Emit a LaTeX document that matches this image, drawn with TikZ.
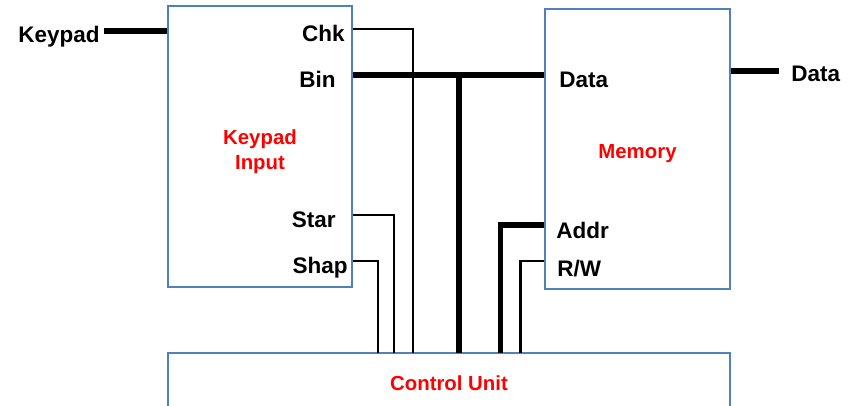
\documentclass[tikz,border=0pt]{standalone}
\usepackage{fontspec}
\setmainfont{Liberation Sans}
\definecolor{boxblue}{RGB}{79,129,189}
\tikzset{
  block/.style={draw=boxblue,line width=1.1pt,inner sep=0pt},
  title/.style={text=red,align=center,inner sep=0pt,
    font=\fontsize{14.5}{17.7}\selectfont\bfseries},
  pin/.style={inner sep=0pt,font=\fontsize{16}{19}\selectfont\bfseries},
  wire/.style={line width=1.7pt},
  bus/.style={line width=3.6pt}
}
\begin{document}
\begin{tikzpicture}
  \useasboundingbox (0,0) rectangle (21.4,10.125);
  \clip (0,0) rectangle (21.4,10.125);
  % blocks
  \node[block,minimum width=4.6cm,minimum height=7.025cm] (kin) at (6.5,6.4625) {};
  \node[block,minimum width=4.625cm,minimum height=7cm] (mem) at (15.9375,6.4) {};
  \node[block,minimum width=14.05cm,minimum height=1.5cm] (cu) at (11.225,0.55) {};
  \node[title] (tkin) at ([yshift=-0.12cm]kin.center) {Keypad\\Input};
  \node[title] (tmem) at ([yshift=-0.12cm]mem.center) {Memory};
  \node[title] (tcu) at (cu.center) {Control Unit};
  % pins
  \coordinate (pkey) at (kin.west |- 0,9.35);
  \coordinate (pchk) at (kin.east |- 0,9.4);
  \coordinate (pbin) at (kin.east |- 0,8.25);
  \coordinate (pstar) at (kin.east |- 0,4.75);
  \coordinate (pshap) at (kin.east |- 0,3.6);
  \coordinate (pdata) at (mem.west |- 0,8.25);
  \coordinate (paddr) at (mem.west |- 0,4.5);
  \coordinate (prw) at (mem.west |- 0,3.6);
  \coordinate (pout) at (mem.east |- 0,8.35);
  \coordinate (ekey) at (2.6,9.35);
  \coordinate (eout) at (19.475,8.35);
  \coordinate (jbin) at (11.475,8.25);
  \coordinate (cshap) at (9.45,1.3);
  \coordinate (cstar) at (9.85,1.3);
  \coordinate (cchk) at (10.325,1.3);
  \coordinate (cbin) at (11.475,1.3);
  \coordinate (caddr) at (12.5125,1.3);
  \coordinate (crw) at (13.0125,1.3);
  % labels
  \node[pin,anchor=base east] (lkey) at (2.5,9.05) {Keypad};
  \node[pin,anchor=base east] (lchk) at (8.625,9.075) {Chk};
  \node[pin,anchor=base east] (lbin) at (8.4,7.94) {Bin};
  \node[pin,anchor=base east] (lstar) at (8.4,4.43) {Star};
  \node[pin,anchor=base east] (lshap) at (8.7,3.3) {Shap};
  \node[pin,anchor=base west] (ldata) at (13.975,7.94) {Data};
  \node[pin,anchor=base west] (laddr) at (13.9,4.175) {Addr};
  \node[pin,anchor=base west] (lrw) at (13.925,3.225) {R/W};
  \node[pin,anchor=base west] (lout) at (19.775,8.08) {Data};
  % wires
  \draw[bus] (ekey) -- (pkey);
  \draw[bus] (pbin) -- (pdata);
  \draw[bus] (jbin) -- (cbin);
  \draw[bus] (paddr) -| (caddr);
  \draw[bus] (pout) -- (eout);
  \draw[wire] (pchk) -| (cchk);
  \draw[wire] (pstar) -| (cstar);
  \draw[wire] (pshap) -| (cshap);
  \draw[wire] (prw) -| (crw);
\end{tikzpicture}
\end{document}
